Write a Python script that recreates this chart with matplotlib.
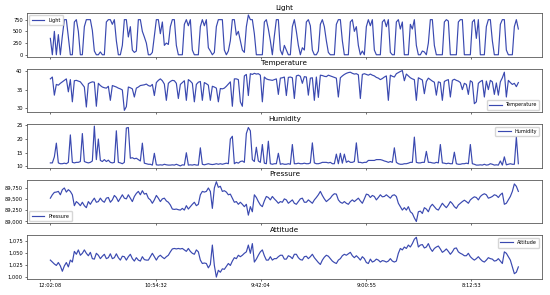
import numpy as np
import matplotlib.pyplot as plt
from matplotlib.ticker import StrMethodFormatter

# one reading kept every 19 records of the sensor log
light = [
    350, 0, 500, 0, 430, 0, 400, 750, 750, 380,
    0, 0, 700, 750, 500, 0, 0, 600, 750, 750,
    750, 520, 80, 0, 0, 60, 0, 0, 700, 750,
    750, 650, 750, 300, 0, 0, 200, 750, 750, 380,
    600, 100, 50, 80, 750, 750, 500, 380, 250, 0,
    0, 50, 400, 750, 750, 450, 700, 200, 250, 220,
    600, 750, 750, 200, 0, 0, 0, 650, 750, 620,
    750, 100, 0, 0, 0, 600, 750, 620, 750, 150,
    80, 0, 50, 600, 750, 750, 750, 100, 0, 80,
    300, 750, 750, 420, 500, 300, 100, 50, 600, 850,
    750, 750, 450, 0, 0, 0, 0, 700, 750, 550,
    300, 0, 400, 750, 750, 100, 0, 200, 100, 0,
    0, 600, 750, 500, 200, 0, 150, 100, 700, 750,
    620, 100, 0, 0, 80, 650, 750, 600, 300, 50,
    0, 0, 0, 650, 750, 750, 300, 0, 0, 0,
    700, 750, 500, 600, 200, 0, 80, 0, 600, 750,
    620, 750, 100, 0, 0, 0, 700, 750, 600, 750,
    50, 0, 0, 700, 750, 550, 700, 0, 0, 0,
    650, 550, 750, 200, 0, 0, 80, 60, 0, 250,
    750, 750, 200, 0, 0, 0, 0, 700, 750, 720,
    0, 0, 0, 0, 700, 750, 750, 0, 0, 0,
    0, 700, 750, 350, 750, 0, 0, 0, 600, 750,
    750, 300, 0, 0, 0, 650, 750, 750, 100, 0,
    0, 0, 600, 750, 550,
]

temperature = [
    38.0, 38.5, 33.6, 36.5, 36.3, 36.8, 37.2, 37.6, 38.0, 34.5,
    37.8, 31.8, 37.5, 37.6, 37.4, 37.2, 36.5, 35.8, 30.4, 36.7,
    37.0, 37.2, 37.1, 30.6, 36.8, 36.2, 35.8, 35.6, 35.5, 36.0,
    32.2, 36.2, 36.0, 35.8, 35.5, 35.3, 35.0, 29.5, 30.5, 35.8,
    35.6, 35.3, 33.1, 35.5, 35.8, 36.2, 36.3, 36.4, 36.6, 36.2,
    36.0, 36.5, 33.5, 37.0, 37.6, 38.0, 37.5, 36.6, 32.2, 36.8,
    37.3, 37.6, 37.5, 36.8, 32.7, 36.5, 37.0, 37.5, 32.2, 37.8,
    37.4, 36.8, 31.8, 36.5, 37.1, 37.3, 32.2, 37.0, 36.7, 36.3,
    32.2, 36.0, 35.8, 35.5, 31.8, 35.4, 35.3, 35.5, 36.0, 36.6,
    37.2, 30.6, 38.0, 38.0, 37.8, 31.8, 30.6, 38.8, 39.2, 33.5,
    39.4, 39.2, 39.5, 39.3, 39.4, 39.0, 31.8, 38.5, 38.0, 37.8,
    37.7, 37.6, 37.8, 38.0, 33.8, 38.2, 38.3, 38.5, 33.5, 38.4,
    38.5, 38.3, 32.7, 38.8, 39.0, 38.7, 36.8, 38.6, 38.5, 33.6,
    38.2, 38.3, 32.2, 38.5, 33.0, 39.0, 38.9, 38.7, 38.6, 39.0,
    38.8, 38.6, 38.4, 38.2, 33.1, 38.3, 38.8, 39.2, 39.5, 39.7,
    39.8, 39.5, 39.3, 39.4, 39.1, 32.7, 39.2, 39.4, 39.2, 39.0,
    39.3, 39.0, 38.8, 38.4, 38.2, 37.8, 38.1, 38.5, 38.8, 32.2,
    39.0, 38.7, 38.5, 39.4, 39.7, 40.0, 40.25, 37.5, 39.3, 38.8,
    38.3, 38.0, 37.8, 32.2, 38.3, 38.0, 37.7, 34.0, 37.3, 38.2,
    37.8, 37.4, 37.1, 33.6, 37.2, 37.0, 32.2, 37.3, 37.6, 37.8,
    33.1, 37.6, 37.9, 37.6, 37.4, 37.0, 35.1, 36.8, 36.5, 33.8,
    37.5, 37.1, 31.3, 31.8, 36.8, 37.3, 37.6, 33.1, 37.4, 35.1,
    37.6, 37.2, 33.8, 36.9, 33.6, 37.2, 38.3, 39.8, 33.1, 37.6,
    37.0, 36.5, 36.8, 35.9, 37.0,
]

humidity = [
    11.3, 11.3, 13.5, 18.5, 11.3, 11.0, 11.0, 11.2, 11.0, 11.5,
    21.5, 11.5, 11.3, 11.5, 11.5, 11.8, 22.0, 11.8, 11.5, 11.3,
    11.5, 12.0, 24.7, 12.5, 20.0, 12.2, 11.8, 12.5, 11.8, 12.3,
    11.5, 11.3, 11.5, 23.0, 11.5, 11.3, 11.0, 11.5, 24.0, 24.2,
    13.0, 13.2, 12.8, 13.0, 12.5, 12.0, 18.5, 11.2, 11.0, 10.8,
    10.8, 10.5, 14.8, 10.6, 10.5, 10.6, 10.5, 10.8, 10.6, 10.5,
    10.5, 10.6, 10.5, 10.8, 10.5, 10.2, 10.6, 10.5, 15.0, 10.5,
    10.6, 10.5, 10.7, 10.5, 10.5, 16.8, 10.8, 10.6, 10.8, 11.0,
    10.8, 10.7, 10.8, 11.0, 10.8, 11.0, 10.8, 11.0, 11.2, 11.0,
    20.0, 21.0, 11.0, 11.5, 11.2, 11.8, 12.0, 11.5, 22.0, 24.2,
    23.0, 12.5, 11.8, 17.0, 12.0, 11.5, 18.0, 11.2, 11.0, 19.2,
    11.0, 10.8, 11.0, 11.0, 14.8, 10.8, 11.0, 10.8, 10.8, 11.0,
    10.8, 18.0, 11.0, 11.0, 11.2, 11.0, 11.0, 11.2, 11.0, 11.0,
    11.3, 18.6, 11.3, 11.0, 11.0, 11.2, 11.5, 11.5, 11.5, 11.3,
    11.5, 11.0, 11.0, 14.5, 11.0, 14.8, 11.2, 14.5, 11.5, 12.0,
    11.5, 11.5, 11.8, 18.6, 11.5, 11.5, 11.3, 11.5, 11.5, 12.2,
    12.2, 12.2, 12.2, 12.5, 12.5, 12.5, 12.3, 12.0, 11.8, 11.5,
    11.8, 11.5, 16.8, 11.5, 11.0, 10.8, 10.8, 11.0, 11.0, 11.2,
    11.5, 11.5, 20.7, 11.5, 11.3, 11.3, 11.5, 11.5, 15.5, 11.5,
    11.5, 11.3, 11.2, 11.5, 11.3, 18.0, 11.3, 11.2, 11.0, 11.2,
    11.0, 11.0, 15.2, 11.0, 10.8, 10.8, 11.0, 11.0, 11.2, 11.0,
    18.0, 11.0, 10.8, 10.5, 10.5, 10.6, 10.5, 10.8, 10.5, 10.6,
    11.0, 10.8, 10.5, 10.6, 10.5, 12.0, 10.5, 13.5, 10.6, 10.8,
    11.0, 10.8, 10.8, 20.7, 11.0,
]

pressure = [
    89520, 89596, 89650, 89657, 89672, 89596, 89711, 89749, 89657, 89711,
    89672, 89596, 89351, 89443, 89405, 89351, 89428, 89351, 89306, 89443,
    89382, 89458, 89520, 89428, 89443, 89520, 89458, 89428, 89520, 89535,
    89428, 89481, 89581, 89535, 89443, 89520, 89596, 89520, 89504, 89596,
    89520, 89443, 89558, 89627, 89672, 89596, 89688, 89611, 89627, 89520,
    89481, 89405, 89481, 89581, 89520, 89443, 89504, 89520, 89458, 89428,
    89367, 89275, 89267, 89275, 89260, 89252, 89290, 89252, 89351, 89275,
    89329, 89382, 89428, 89351, 89382, 89596, 89672, 89657, 89672, 89749,
    89672, 89290, 89749, 89890, 89764, 89787, 89672, 89688, 89657, 89596,
    89611, 89520, 89428, 89443, 89382, 89428, 89382, 89329, 89382, 89138,
    89329, 89214, 89596, 89535, 89443, 89367, 89329, 89458, 89558, 89535,
    89481, 89558, 89504, 89458, 89405, 89443, 89428, 89504, 89481, 89405,
    89443, 89481, 89405, 89382, 89443, 89504, 89520, 89428, 89428, 89481,
    89443, 89405, 89481, 89535, 89596, 89672, 89581, 89504, 89443, 89481,
    89520, 89581, 89619, 89611, 89481, 89428, 89405, 89443, 89405, 89382,
    89443, 89481, 89443, 89481, 89520, 89458, 89405, 89504, 89611, 89596,
    89535, 89581, 89558, 89481, 89535, 89596, 89550, 89558, 89596, 89558,
    89520, 89581, 89596, 89558, 89405, 89329, 89252, 89306, 89252, 89329,
    89214, 89176, 89076, 88995, 89214, 89229, 89176, 89306, 89275, 89214,
    89329, 89382, 89329, 89275, 89252, 89329, 89405, 89351, 89306, 89367,
    89443, 89397, 89329, 89290, 89367, 89405, 89443, 89474, 89443, 89405,
    89481, 89520, 89550, 89535, 89481, 89558, 89596, 89619, 89596, 89520,
    89535, 89558, 89596, 89581, 89535, 89596, 89634, 89382, 89405, 89481,
    89558, 89672, 89840, 89787, 89672,
]

attitude = [
    1035, 1031, 1027, 1024, 1030, 1023, 1012, 1023, 1030, 1021,
    1035, 1031, 1053, 1047, 1056, 1045, 1049, 1056, 1049, 1044,
    1051, 1038, 1037, 1049, 1045, 1038, 1043, 1047, 1038, 1040,
    1048, 1038, 1040, 1048, 1040, 1035, 1043, 1042, 1035, 1042,
    1047, 1038, 1033, 1040, 1035, 1033, 1042, 1036, 1035, 1035,
    1042, 1049, 1042, 1035, 1042, 1045, 1041, 1038, 1042, 1045,
    1052, 1058, 1059, 1058, 1059, 1058, 1059, 1056, 1053, 1059,
    1053, 1049, 1047, 1056, 1052, 1035, 1028, 1029, 1028, 1019,
    1026, 1066, 1024, 1000, 1014, 1010, 1017, 1016, 1022, 1028,
    1024, 1033, 1040, 1038, 1045, 1042, 1045, 1049, 1052, 1066,
    1049, 1069, 1031, 1037, 1045, 1052, 1056, 1044, 1035, 1035,
    1042, 1035, 1038, 1038, 1042, 1045, 1045, 1037, 1037, 1044,
    1042, 1038, 1047, 1047, 1040, 1036, 1035, 1042, 1043, 1038,
    1042, 1047, 1040, 1035, 1030, 1026, 1035, 1041, 1045, 1043,
    1038, 1033, 1030, 1028, 1035, 1038, 1044, 1047, 1045, 1048,
    1051, 1044, 1040, 1044, 1040, 1035, 1042, 1038, 1030, 1028,
    1037, 1031, 1033, 1037, 1035, 1031, 1034, 1033, 1031, 1033,
    1038, 1033, 1031, 1033, 1049, 1059, 1056, 1062, 1059, 1066,
    1062, 1069, 1078, 1082, 1062, 1066, 1067, 1060, 1062, 1069,
    1059, 1053, 1059, 1062, 1064, 1058, 1051, 1054, 1058, 1053,
    1047, 1052, 1059, 1060, 1052, 1049, 1047, 1044, 1044, 1049,
    1042, 1038, 1035, 1038, 1042, 1037, 1033, 1031, 1035, 1040,
    1038, 1037, 1033, 1034, 1038, 1033, 1028, 1052, 1049, 1042,
    1035, 1021, 1007, 1010, 1021,
]

tick_labels = ['12:02:08', '10:54:32', '9:42:04', '9:00:55', '8:12:53']
tick_records = [0, 1000, 2000, 3000, 4000]
record_step = 19

records = np.arange(len(light)) * record_step
line_color = '#3a49b0'

# name, values, legend position, y ticks
panels = [
    ('Light', light, 'upper left', [0, 250, 500, 750]),
    ('Temperature', temperature, 'lower right', [30, 35, 40]),
    ('Humidity', humidity, 'upper right', [10, 15, 20, 25]),
    ('Pressure', pressure, 'lower left', [89000, 89250, 89500, 89750]),
    ('Attitude', attitude, 'upper right', [1000, 1025, 1050, 1075]),
]

fig, axes = plt.subplots(5, 1, figsize=(5.5, 2.95), dpi=100, sharex=True)
fig.subplots_adjust(left=0.049, right=0.985, top=0.956, bottom=0.054, hspace=0.27)

for ax, (name, values, loc, yticks) in zip(axes, panels):
    ax.plot(records, values, color=line_color, lw=0.85, label=name)
    ax.set_title(name, fontsize=5.2, pad=2.5)
    ax.set_yticks(yticks)
    ax.yaxis.set_major_formatter(StrMethodFormatter('{x:,.0f}'))
    ax.tick_params(labelsize=3.7, length=1.5, width=0.4, pad=1.5)
    for spine in ax.spines.values():
        spine.set_linewidth(0.6)
        spine.set_color('0.35')
    ax.legend(loc=loc, fontsize=3.5, handlelength=2.6, borderpad=0.5,
              framealpha=0.8, edgecolor='0.8')

axes[-1].set_xticks(tick_records)
axes[-1].set_xticklabels(tick_labels)

fig.savefig('out.png')
